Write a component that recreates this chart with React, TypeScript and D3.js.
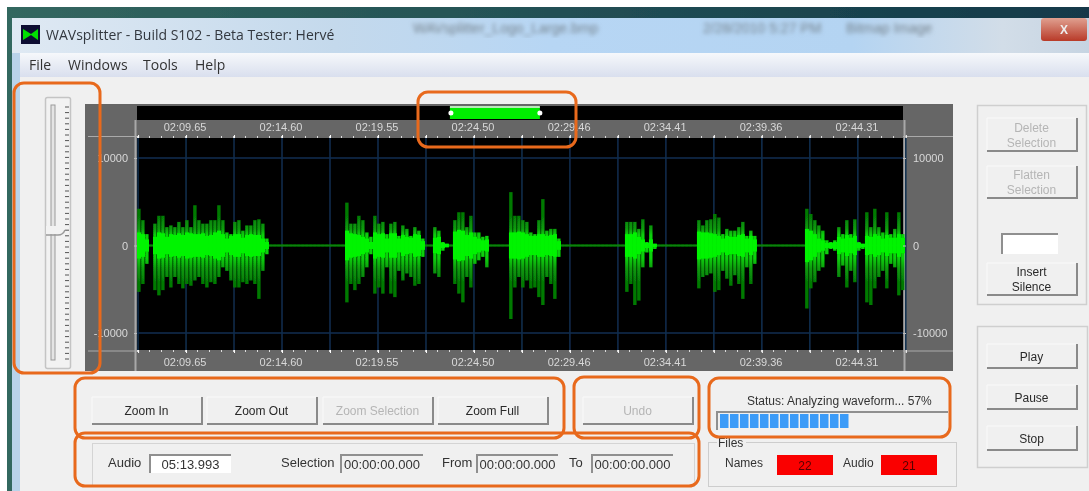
import React, { useRef, useEffect } from "react";
import * as d3 from "d3";

// waveform peaks, one column per bin
const peakUp = [
  4200, 2900, 1300, 100, 2500, 3400, 3400, 2100, 2300, 2100, 2700, 2100, 2900, 2100, 4600, 2900, 2500, 2500, 2900, 2900, 4600, 2900, 1500, 1300, 2700, 2900, 1700, 2300, 2300, 2900, 3000, 2500, 800,
  100, 100, 100, 100, 100, 100, 100, 100, 100, 100, 100, 100, 100, 100, 100, 100, 100, 100, 100,
  4900, 2500, 2500, 3400, 2900, 1500, 1000, 3400, 2500, 2700, 1300, 2500, 2700, 1100, 2300, 1900, 1100, 2100, 1700, 800,
  100, 100, 2100, 1700, 400, 200, 100, 2900, 3800, 3800, 2100, 3400, 1500, 1500, 1000, 1100,
  100, 100, 100, 100, 100,
  6100, 3400, 3400, 2900, 2700, 1500, 1300, 2900, 5300, 1700, 1900, 1900, 800,
  100, 100, 100, 100, 100, 100, 100, 100, 100, 100, 100, 100, 100, 100, 100, 100,
  2700, 2700, 2700, 1900, 3000, 400, 2300, 200,
  100, 100, 100, 100, 100, 100, 100, 100, 100, 100,
  2900, 2300, 2900, 3000, 3600, 3200, 1300, 1900, 1700, 1700, 2100, 2700, 1100, 1700, 1100,
  100, 100, 100, 100, 100, 100, 100, 100, 100, 100, 100, 100,
  4200, 3600, 2900, 2300, 1700, 600, 400, 600, 2100, 1300, 2900, 1300, 3000, 400, 200, 3800, 2100, 4200, 2100, 1500, 3800, 1300, 1900, 3800, 1300,
];
const peakDown = [
  5300, 4400, 2100, 100, 5100, 5700, 5100, 3600, 4800, 3600, 4400, 4900, 4400, 4600, 4000, 3600, 4400, 4800, 4200, 4400, 3600, 2500, 2900, 4000, 4800, 4800, 4200, 4400, 4000, 4400, 6100, 2900, 1000,
  100, 100, 100, 100, 100, 100, 100, 100, 100, 100, 100, 100, 100, 100, 100, 100, 100, 100, 100,
  6500, 4400, 5100, 4400, 3600, 2500, 1000, 5500, 4800, 5500, 2500, 5500, 5900, 2900, 4000, 3200, 3600, 4600, 4400, 1300,
  100, 100, 3200, 3600, 600, 200, 100, 4400, 5500, 6500, 3600, 4800, 2100, 1700, 1300, 2500,
  100, 100, 100, 100, 100,
  8400, 4800, 3600, 4800, 4000, 4900, 4800, 5900, 6800, 3600, 4400, 6100, 1300,
  100, 100, 100, 100, 100, 100, 100, 100, 100, 100, 100, 100, 100, 100, 100, 100,
  5300, 4400, 6800, 6300, 2500, 800, 2500, 400,
  100, 100, 100, 100, 100, 100, 100, 100, 100, 100,
  4900, 3600, 3400, 3200, 5300, 5100, 2900, 3800, 4600, 3400, 4400, 6100, 2500, 4400, 2100,
  100, 100, 100, 100, 100, 100, 100, 100, 100, 100, 100, 100,
  7200, 4900, 4200, 2900, 2500, 1000, 400, 600, 3600, 2300, 4800, 2900, 4200, 600, 400, 6500, 6800, 4900, 3600, 2900, 4900, 2100, 2500, 5700, 5100,
];
// the bright part in the middle of each column
const peakCore = [
  1500, 1300, 700, 100, 1000, 1500, 1400, 1000, 1300, 1200, 1400, 1200, 1500, 1400, 1300, 1300, 1400, 1100, 1200, 1500, 1700, 1300, 800, 1100, 1300, 1300, 900, 1200, 1300, 1200, 1200, 800, 400,
  100, 100, 100, 100, 100, 100, 100, 100, 100, 100, 100, 100, 100, 100, 100, 100, 100, 100, 100,
  1700, 1400, 1300, 1200, 1000, 800, 400, 1500, 1300, 1400, 800, 1400, 1400, 800, 1200, 1000, 900, 1300, 1200, 500,
  100, 100, 900, 1000, 300, 200, 100, 1600, 1800, 1700, 1200, 1500, 1000, 800, 600, 700,
  100, 100, 100, 100, 100,
  1500, 1500, 1600, 1500, 1300, 1100, 1100, 1300, 1300, 1100, 1200, 1300, 500,
  100, 100, 100, 100, 100, 100, 100, 100, 100, 100, 100, 100, 100, 100, 100, 100,
  1300, 1300, 1500, 1000, 700, 300, 700, 200,
  100, 100, 100, 100, 100, 100, 100, 100, 100, 100,
  1600, 1500, 1500, 1400, 1300, 1100, 800, 1100, 1000, 1000, 1200, 1300, 800, 1100, 700,
  100, 100, 100, 100, 100, 100, 100, 100, 100, 100, 100, 100,
  1900, 1700, 1300, 800, 600, 300, 300, 400, 1000, 800, 1200, 900, 1100, 300, 200, 1100, 1000, 1300, 1100, 800, 1200, 900, 900, 1300, 900,
];

const timeTicks = [129.65, 134.6, 139.55, 144.5, 149.46, 154.41, 159.36, 164.31];
const timeLabels = ["02:09.65", "02:14.60", "02:19.55", "02:24.50", "02:29.46", "02:34.41", "02:39.36", "02:44.31"];
const ampTicks = [10000, 0, -10000];
const selection = [143.26, 147.9];
const progress = 57;

const zoomButtons = [
  { label: "Zoom In", x: 92, on: true },
  { label: "Zoom Out", x: 207, on: true },
  { label: "Zoom Selection", x: 323, on: false },
  { label: "Zoom Full", x: 438, on: true },
  { label: "Undo", x: 583, on: false },
];
const timeBoxes = [
  { label: "Audio", lx: 108, x: 150, w: 81, value: "05:13.993", white: true },
  { label: "Selection", lx: 281, x: 341, w: 82, value: "00:00:00.000", white: false },
  { label: "From", lx: 442, x: 477, w: 81, value: "00:00:00.000", white: false },
  { label: "To", lx: 569, x: 592, w: 81, value: "00:00:00.000", white: false },
];
const orangeBoxes = [
  [14, 83, 86, 290],
  [418, 92, 158, 55],
  [75, 378, 489, 60],
  [75, 433, 624, 53],
  [574, 377, 125, 61],
  [709, 378, 241, 59],
];

const t0 = 127.12;
const binSeconds = 0.2063;
const x = d3.scaleLinear().domain([t0, 166.63]).range([137, 903]);
const y = d3.scaleLinear().domain([10000, -10000]).range([158, 333]);
const font = "'Liberation Sans', Arial, sans-serif";

function Btn({ x, y, w, h, label, on = true }: any) {
  const lines = label.split("\n");
  return (
    <g>
      <rect x={x} y={y} width={w} height={h} fill="#f0f0f0" />
      <path d={`M${x + w - 1},${y} V${y + h - 1} H${x}`} fill="none" stroke="#8a8a8a" strokeWidth={2} />
      <path d={`M${x},${y + h - 2} V${y} H${x + w - 2}`} fill="none" stroke="#fafafa" strokeWidth={1} />
      {lines.map((l: string, i: number) => (
        <text key={i} x={x + w / 2 - 1} y={y + h / 2 + 4 + (i - (lines.length - 1) / 2) * 15} textAnchor="middle" fontSize={12} fill={on ? "#2a2a2a" : "#b5b5b5"}>
          {l}
        </text>
      ))}
    </g>
  );
}

function Sunken({ x, y, w, h, fill = "#f0f0f0", children }: any) {
  return (
    <g>
      <rect x={x} y={y} width={w} height={h} fill={fill} />
      <path d={`M${x},${y + h} V${y} H${x + w}`} fill="none" stroke="#8f8f8f" strokeWidth={2} />
      {children}
    </g>
  );
}

export default function App() {
  const axesRef = useRef<SVGGElement>(null);

  useEffect(() => {
    const g = d3.select(axesRef.current);
    g.selectAll("*").remove();
    const majorTimes = d3.range(-1, 16).map((i) => timeTicks[0] + i * 2.475);
    const minorTimes = d3.range(0, 64).map((i) => t0 + i * 0.619);
    const label = (d: any) => timeLabels[timeTicks.indexOf(d)];
    const ampLabel = (d: any) => String(d);

    const style = (s: any, color: string) => {
      s.select(".domain").remove();
      s.selectAll("line").attr("stroke", color);
      s.selectAll("text").attr("fill", "#d8d8d8").attr("font-size", 11).attr("font-family", font);
    };
    // rulers
    [
      { ax: d3.axisTop, yp: 138, ly: 131 },
      { ax: d3.axisBottom, yp: 350, ly: 366 },
    ].forEach(({ ax, yp, ly }) => {
      g.append("g").attr("transform", `translate(0,${yp})`).call(ax(x).tickValues(minorTimes).tickSize(2).tickFormat(() => "") as any).call(style, "#ddd");
      g.append("g").attr("transform", `translate(0,${yp})`).call(ax(x).tickValues(majorTimes).tickSize(3).tickFormat(() => "") as any).call(style, "#fff");
      const labels = g.append("g").attr("transform", `translate(0,${yp})`).call(ax(x).tickValues(timeTicks).tickSize(0).tickFormat(label as any) as any).call(style, "#fff");
      labels.selectAll("text").attr("y", null).attr("dy", null).attr("transform", `translate(-1.5,${ly - yp})`);
    });
    // amplitude scales either side
    g.append("g").attr("transform", "translate(137,0)").call(d3.axisLeft(y).tickValues(ampTicks).tickSize(3).tickPadding(6).tickFormat(ampLabel) as any).call(style, "#bbb");
    g.append("g").attr("transform", "translate(903,0)").call(d3.axisRight(y).tickValues(ampTicks).tickSize(3).tickPadding(7).tickFormat(ampLabel) as any).call(style, "#bbb");
  }, []);

  const binX = (i: number) => x(t0 + i * binSeconds);
  const gridTimes = d3.range(-1, 16).map((i) => timeTicks[0] + i * 2.475);
  const sliderTicks = d3.range(0, 46);

  return (
    <svg width={1089} height={491} style={{ position: "absolute", left: 0, top: 0 }} fontFamily={font}>
      <defs>
        <linearGradient id="titleBar" x1="0" x2="1" y1="0" y2="0">
          <stop offset="0" stopColor="#dfe9f3" />
          <stop offset="0.3" stopColor="#c4d9ec" />
          <stop offset="0.5" stopColor="#b7d6f4" />
          <stop offset="0.78" stopColor="#b4d4f2" />
          <stop offset="0.92" stopColor="#d2dde8" />
          <stop offset="1" stopColor="#c6d4e2" />
        </linearGradient>
        <linearGradient id="menuBar" x1="0" x2="0" y1="0" y2="1">
          <stop offset="0" stopColor="#f6f8fb" />
          <stop offset="1" stopColor="#d9dfee" />
        </linearGradient>
        <linearGradient id="desk" x1="0" x2="1" y1="0" y2="0">
          <stop offset="0" stopColor="#33675f" />
          <stop offset="1" stopColor="#12394a" />
        </linearGradient>
        <linearGradient id="closeBtn" x1="0" x2="0" y1="0" y2="1">
          <stop offset="0" stopColor="#e0a090" />
          <stop offset="1" stopColor="#b83a28" />
        </linearGradient>
        {/* columns go from mid green near the middle to dark at the tips */}
        <linearGradient id="wave" gradientUnits="userSpaceOnUse" x1="0" x2="0" y1={y(6000)} y2={y(-6000)}>
          <stop offset="0.22" stopColor="#067a06" />
          <stop offset="0.34" stopColor="#089a0a" />
          <stop offset="0.4" stopColor="#08d008" />
          <stop offset="0.62" stopColor="#08d008" />
          <stop offset="0.72" stopColor="#089a0a" />
          <stop offset="0.85" stopColor="#067a06" />
        </linearGradient>
        <filter id="soft" x="0" y="0" width="100%" height="100%">
          <feGaussianBlur stdDeviation="0.75" />
        </filter>
        <filter id="softer">
          <feGaussianBlur stdDeviation="2" />
        </filter>
      </defs>

      <rect width={1089} height={491} fill="#fff" />
      <g filter="url(#soft)">
        {/* desktop and window frame */}
        <rect x={7} y={7} width={1082} height={484} fill="url(#desk)" />
        <rect x={12} y={18} width={1077} height={473} fill="#b9d3ea" />
        <rect x={12} y={18} width={1077} height={35} fill="url(#titleBar)" />
        <rect x={20} y={53} width={1069} height={24} fill="url(#menuBar)" />
        <rect x={20} y={77} width={1069} height={414} fill="#f0f0f0" />
        <rect x={21} y={25} width={19} height={19} fill="#101030" />
        <path d="M23,29 L31,34 L38,29 V40 L31,35 L23,40 Z" fill="#00e000" />
        <text x={46} y={40} fontSize={14} fontFamily="'Open Sans', sans-serif" fill="#33383f">WAVsplitter - Build S102 - Beta Tester: Hervé</text>
        <g filter="url(#softer)" fontSize={14} fill="#76848f">
          <text x={413} y={33}>WAVsplitter_Logo_Large.bmp</text>
          <text x={703} y={33}>2/28/2010 5:27 PM</text>
          <text x={846} y={33}>Bitmap Image</text>
        </g>
        <rect x={1041} y={18} width={46} height={23} rx={3} fill="url(#closeBtn)" />
        <text x={1064} y={34} textAnchor="middle" fontSize={12} fontWeight={700} fill="#eee">X</text>
        {["File", "Windows", "Tools", "Help"].map((m, i) => (
          <text key={m} x={[29, 68, 143, 195][i]} y={70} fontSize={14} fontFamily="'Open Sans', sans-serif" fill="#333">{m}</text>
        ))}

        {/* slider */}
        <rect x={45.5} y={97.5} width={25} height={271} rx={2} fill="#f2f2f2" stroke="#c4c4c4" strokeWidth={1.5} />
        <rect x={51} y={105} width={4} height={255} fill="#e4e4e4" stroke="#9a9a9a" />
        {sliderTicks.map((i) => (
          <line key={i} x1={65} x2={69} y1={107 + i * 5.6} y2={107 + i * 5.6} stroke="#555" />
        ))}
        <rect x={46} y={226} width={18} height={8} fill="#f2f2f2" />
        <path d="M46,235 H58 Q63,235 65,230" stroke="#9a9a9a" strokeWidth={1.5} fill="none" />

        {/* waveform panel */}
        <rect x={85} y={104} width={868} height={267} fill="#666" />
        <rect x={137} y={106} width={766} height={14} fill="#000" />
        <rect x={137} y={138} width={766} height={212} fill="#000" />
        <path d="M88,136.5 H137 M903,136.5 H953 M88,351 H137 M903,351 H953" stroke="#aaa" />
        <path d="M135.5,120 V371 M904.5,120 V371" stroke="#a8a8a8" strokeWidth={2} />
        {gridTimes.map((t) => (
          <line key={t} x1={x(t)} x2={x(t)} y1={138} y2={350} stroke="#0f2f50" strokeWidth={1.5} />
        ))}
        {ampTicks.filter((d) => d !== 0).map((d) => (
          <line key={d} x1={137} x2={903} y1={y(d)} y2={y(d)} stroke="#0f2f50" strokeWidth={1.5} />
        ))}
        <line x1={137} x2={903} y1={y(0)} y2={y(0)} stroke="#0a800a" strokeWidth={1.5} />
        {peakUp.map((d, i) => (
          <rect key={i} x={binX(i) + 0.2} y={y(d)} width={3.4} height={y(-peakDown[i]) - y(d)} fill={d > 100 ? "url(#wave)" : "#0a800a"} />
        ))}
        {peakCore.map((d, i) => (
          <rect key={i} x={binX(i)} y={y(d)} width={4} height={y(-d) - y(d)} fill={d > 100 ? "#00f400" : "#0a800a"} />
        ))}

        {/* overview selection */}
        <rect x={x(selection[0])} y={107} width={x(selection[1]) - x(selection[0])} height={12} fill="#00ee00" />
        <rect x={x(selection[0])} y={106} width={x(selection[1]) - x(selection[0])} height={2} fill="#b8e8b8" />
        <circle cx={x(selection[0]) + 1} cy={113} r={2.5} fill="#fff" />
        <circle cx={x(selection[1])} cy={113} r={2.5} fill="#fff" />

        <g ref={axesRef} />

        {/* right hand groups */}
        <rect x={977.5} y={105.5} width={109} height={199} fill="none" stroke="#cfcfcf" strokeWidth={1.5} />
        <rect x={977.5} y={326.5} width={110} height={141} fill="none" stroke="#cfcfcf" strokeWidth={1.5} />
        <Btn x={987} y={118} w={91} h={34} label={"Delete\nSelection"} on={false} />
        <Btn x={987} y={166} w={91} h={33} label={"Flatten\nSelection"} on={false} />
        <Sunken x={1002} y={234} w={56} h={20} fill="#fff" />
        <Btn x={987} y={263} w={91} h={33} label={"Insert\nSilence"} />
        <Btn x={987} y={344} w={91} h={25} label="Play" />
        <Btn x={987} y={385} w={91} h={25} label="Pause" />
        <Btn x={987} y={426} w={91} h={25} label="Stop" />

        {/* zoom row */}
        {zoomButtons.map((b) => (
          <Btn key={b.label} x={b.x} y={397} w={111} h={28} label={b.label} on={b.on} />
        ))}

        {/* status */}
        <text x={747} y={405} fontSize={12} fill="#333">Status: Analyzing waveform... 57%</text>
        <Sunken x={717} y={412} w={231} h={18} />
        {d3.range(0, Math.round((progress / 100) * 23)).map((i) => (
          <rect key={i} x={720 + i * 10} y={414} width={8.5} height={14} fill="#3a9bf8" />
        ))}

        {/* times */}
        <rect x={92.5} y={443.5} width={602} height={43} fill="none" stroke="#d4d4d4" />
        {timeBoxes.map((b) => (
          <g key={b.label}>
            <text x={b.lx} y={467} fontSize={13} fill="#333">{b.label}</text>
            <Sunken x={b.x} y={455} w={b.w} h={18} fill={b.white ? "#fff" : "#f0f0f0"}>
              <text x={b.x + b.w / 2} y={469} textAnchor="middle" fontSize={13} fill="#333">{b.value}</text>
            </Sunken>
          </g>
        ))}

        {/* files */}
        <rect x={708.5} y={442.5} width={248} height={44} fill="none" stroke="#cdcdcd" />
        <rect x={717} y={438} width={29} height={10} fill="#f0f0f0" />
        <text x={718} y={447} fontSize={12} fill="#333">Files</text>
        <text x={725} y={467} fontSize={12} fill="#333">Names</text>
        <text x={843} y={467} fontSize={12} fill="#333">Audio</text>
        <rect x={777} y={455} width={56} height={20} fill="#fa0000" />
        <rect x={881} y={455} width={56} height={20} fill="#fa0000" />
        <text x={805} y={470} textAnchor="middle" fontSize={12} fill="#500">22</text>
        <text x={909} y={470} textAnchor="middle" fontSize={12} fill="#500">21</text>

        {/* orange call-outs */}
        {orangeBoxes.map(([bx, by, bw, bh]) => (
          <rect key={`${bx}-${by}`} x={bx} y={by} width={bw} height={bh} rx={10} fill="none" stroke="#e8691c" strokeWidth={3} />
        ))}
      </g>
    </svg>
  );
}
